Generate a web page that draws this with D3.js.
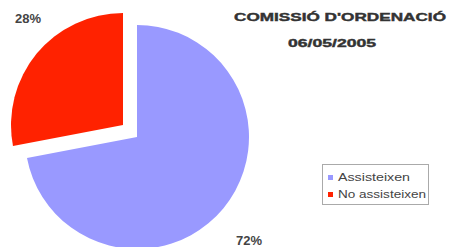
<!doctype html>
<html>
  <head>
    <script src="https://cdnjs.cloudflare.com/ajax/libs/d3/7.8.5/d3.min.js"></script>
    <style>
      body { margin: 0; background: #fff; }
      svg { display: block; }
      text { font-family: "Liberation Sans", Arial, sans-serif; }
      .pct { font-size: 13px; font-weight: bold; fill: #444; }
      .title { font-size: 11px; font-weight: bold; fill: #333; stroke: #333; stroke-width: 0.4; }
      .legend text { font-size: 10px; fill: #444; }
    </style>
  </head>
  <body>
    <div id="chart"></div>
    <script>
      var categories = ["Assisteixen", "No assisteixen"];
      var values = [72, 28];
      var labels = ["72%", "28%"];
      var colors = ["#9999ff", "#ff2200"];
      var titleLines = ["COMISSIÓ D'ORDENACIÓ", "06/05/2005"];

      var width = 449, height = 247;
      var cx = 137, cy = 137, radius = 112;

      var svg = d3.select("#chart").append("svg")
          .attr("width", width)
          .attr("height", height);

      var pie = d3.pie().sort(null).value(d => d);
      var arc = d3.arc().innerRadius(0).outerRadius(radius);
      var slices = pie(values);

      // red slice is pulled out towards upper-left
      var explode = [[0, 0], [-14, -12]];

      svg.selectAll("path.slice")
        .data(slices)
        .enter()
        .append("path")
          .attr("class", "slice")
          .attr("d", arc)
          .attr("fill", (d, i) => colors[i])
          .attr("transform", (d, i) => "translate(" + (cx + explode[i][0]) + "," + (cy + explode[i][1]) + ")");

      // percentage labels
      var labelPos = [[249, 245], [28, 23]];
      svg.selectAll("text.pct")
        .data(labels)
        .enter()
        .append("text")
          .attr("class", "pct")
          .attr("text-anchor", "middle")
          .attr("x", (d, i) => labelPos[i][0])
          .attr("y", (d, i) => labelPos[i][1])
          .text(d => d);

      // title
      svg.append("text")
          .attr("class", "title")
          .attr("x", 340).attr("y", 21)
          .attr("text-anchor", "middle")
          .attr("textLength", 212)
          .attr("lengthAdjust", "spacingAndGlyphs")
          .text(titleLines[0]);
      svg.append("text")
          .attr("class", "title")
          .attr("x", 332).attr("y", 47)
          .attr("text-anchor", "middle")
          .attr("textLength", 88)
          .attr("lengthAdjust", "spacingAndGlyphs")
          .text(titleLines[1]);

      // legend
      var legendLen = [72, 88];
      var legend = svg.append("g").attr("class", "legend");
      legend.append("rect")
          .attr("x", 322.5).attr("y", 164.5)
          .attr("width", 106).attr("height", 40)
          .attr("fill", "#fff")
          .attr("stroke", "#aaa")
          .attr("stroke-width", 1);
      var items = legend.selectAll("g.item")
        .data(categories)
        .enter()
        .append("g")
          .attr("class", "item")
          .attr("transform", (d, i) => "translate(328," + (178 + i * 17) + ")");
      items.append("rect")
          .attr("x", 0).attr("y", -3)
          .attr("width", 5).attr("height", 5)
          .attr("fill", (d, i) => colors[i]);
      items.append("text")
          .attr("x", 10).attr("y", 0)
          .attr("dominant-baseline", "middle")
          .attr("textLength", (d, i) => legendLen[i])
          .attr("lengthAdjust", "spacingAndGlyphs")
          .text(d => d);
    </script>
  </body>
</html>
